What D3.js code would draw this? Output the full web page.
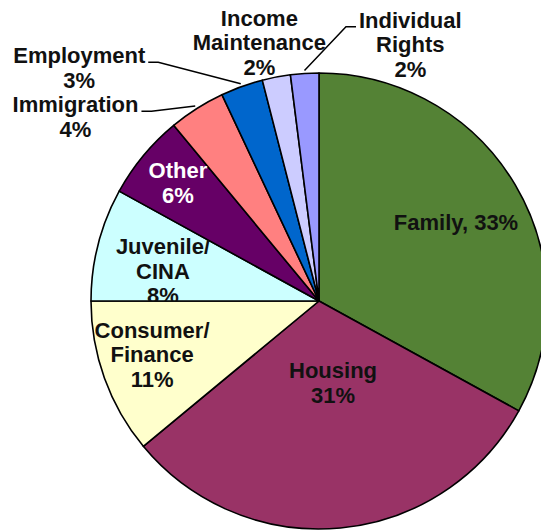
<!DOCTYPE html>
<html>
<head>
<meta charset="utf-8">
<script src="https://cdn.jsdelivr.net/npm/d3@7"></script>
<style>
  html, body { margin: 0; padding: 0; background: #fff; }
  svg { display: block; }
  text { font-family: "Liberation Sans", Arial, sans-serif; font-weight: bold; }
</style>
</head>
<body>
<script>
// ---- data ----
const categories = ["Family", "Housing", "Consumer/Finance", "Juvenile/CINA", "Other",
                    "Immigration", "Employment", "Income Maintenance", "Individual Rights"];
const values = [33, 31, 11, 8, 6, 4, 3, 2, 2];
// label wording (name lines); percent is appended from values
const labelNames = [["Family,"], ["Housing"], ["Consumer/", "Finance"], ["Juvenile/", "CINA"],
                    ["Other"], ["Immigration"], ["Employment"], ["Income", "Maintenance"],
                    ["Individual", "Rights"]];

// ---- styling / layout ----
const colors = ["#548235", "#993366", "#FFFFCC", "#CCFFFF", "#660066",
                "#FF8080", "#0066CC", "#CCCCFF", "#9999FF"];
const textColors = ["#111", "#111", "#111", "#111", "#fff", "#111", "#111", "#111", "#111"];
// label block placement: polar angle (deg, clockwise from 12 o'clock) and radius fraction
const labelLayout = [
  {a: 60.0, rf: 0.694, inline: true},
  {a: 170.3, rf: 0.365},
  {a: 252.2, rf: 0.769},
  {a: 280.9, rf: 0.697, clip: true},
  {a: 309.9, rf: 0.807},
  {a: 307.1, rf: 1.339, leader: "right"},
  {a: 314.2, rf: 1.467, leader: "right"},
  {a: 347.0, rf: 1.163},
  {a: 19.6, rf: 1.194, leader: "left"}
];

const W = 541, H = 531;
const cx = 319, cy = 301, R = 228;
const fontSize = 22, lineH = 24.5;

const svg = d3.select("body").append("svg").attr("width", W).attr("height", H);
const g = svg.append("g").attr("transform", `translate(${cx},${cy})`);

const pie = d3.pie().sort(null).value(d => d)(values);
const arc = d3.arc().innerRadius(0).outerRadius(R);

const defs = svg.append("defs");

g.selectAll("path.slice").data(pie).enter().append("path")
  .attr("class", "slice")
  .attr("d", arc)
  .attr("fill", (d, i) => colors[i])
  .attr("stroke", "#000")
  .attr("stroke-width", 1.6)
  .attr("stroke-linejoin", "round");

pie.forEach((d, i) => {
  const L = labelLayout[i];
  const rad = L.a * Math.PI / 180;
  const bx = Math.sin(rad) * R * L.rf;
  const by = -Math.cos(rad) * R * L.rf;
  const pct = values[i] + "%";
  let lines = labelNames[i].slice();
  if (L.inline) lines[lines.length - 1] += " " + pct; else lines.push(pct);
  const firstBase = by - (lines.length - 1) * lineH / 2 + 0.35 * fontSize;

  let lg = g.append("g");
  if (L.clip) {
    const id = "clip" + i;
    defs.append("clipPath").attr("id", id)
      .append("path").attr("d", arc(d)).attr("transform", `translate(${cx},${cy})`);
    lg = svg.append("g").attr("clip-path", `url(#${id})`)
      .append("g").attr("transform", `translate(${cx},${cy})`);
  }
  const t = lg.append("text")
    .attr("text-anchor", "middle")
    .attr("font-size", fontSize)
    .attr("fill", textColors[i]);
  lines.forEach((s, k) => {
    t.append("tspan").attr("x", bx).attr("y", firstBase + k * lineH).text(s);
  });

  if (L.leader) {
    const firstSpan = t.select("tspan").node();
    const w = firstSpan.getComputedTextLength();
    const ly = firstBase - 1;
    const sx = L.leader === "right" ? bx + w / 2 + 3 : bx - w / 2 - 3;
    const ex = L.leader === "right" ? sx + 10 : sx - 10;
    const mid = (d.startAngle + d.endAngle) / 2;
    const px = Math.sin(mid) * (R + 3);
    const py = -Math.cos(mid) * (R + 3);
    g.append("path")
      .attr("d", d3.line()([[sx, ly], [ex, ly], [px, py]]))
      .attr("fill", "none")
      .attr("stroke", "#000")
      .attr("stroke-width", 1.5);
  }
});
</script>
</body>
</html>
